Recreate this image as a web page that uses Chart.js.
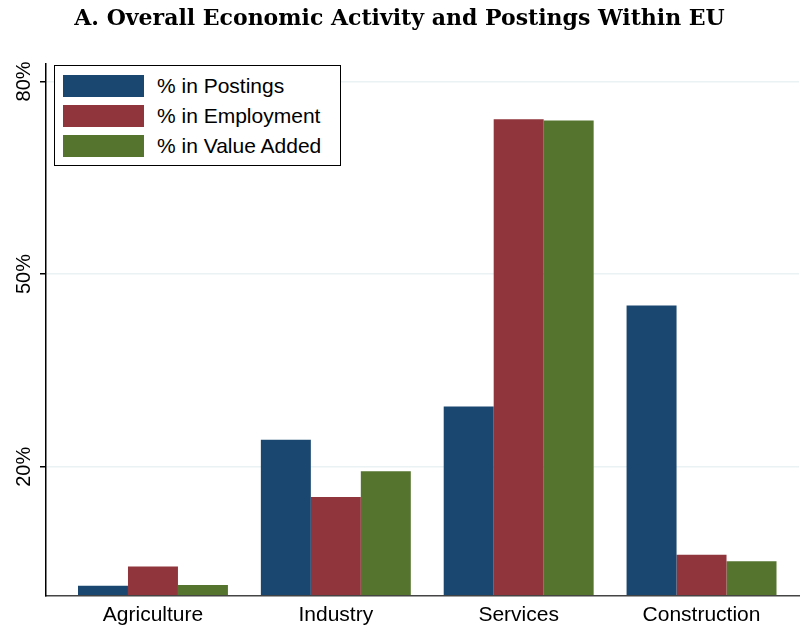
<!DOCTYPE html>
<html>
<head>
<meta charset="utf-8">
<script src="https://cdn.jsdelivr.net/npm/chart.js@4/dist/chart.umd.min.js"></script>
<style>
  body { margin: 0; background: #fff; }
  #wrap { position: relative; width: 800px; height: 628px; }
  #legend {
    position: absolute; left: 54px; top: 65px; width: 285px; height: 99px;
    border: 1px solid #000; background: #fff;
    font-family: 'Liberation Sans', Arial, sans-serif; font-size: 21px; color: #000;
  }
  .row { position: absolute; left: 8px; height: 22px; display: flex; align-items: center; }
  .sw { width: 81px; height: 22px; margin-right: 13px; }
</style>
</head>
<body>
<div id="wrap">
  <canvas id="chart" width="800" height="628"></canvas>
  <div id="legend"></div>
</div>
<script>
const categories = ['Agriculture', 'Industry', 'Services', 'Construction'];
const postings = [1.5, 24.2, 29.4, 45.1];
const employment = [4.5, 15.3, 74.1, 6.3];
const valueAdded = [1.6, 19.3, 73.9, 5.3];
const yTicks = [20, 50, 80];

const seriesNames = ['% in Postings', '% in Employment', '% in Value Added'];
const seriesColors = ['#1a476f', '#90353b', '#55752f'];
const seriesValues = [postings, employment, valueAdded];

function makeDatasets() {
    return seriesValues.map((vals, k) => ({
        label: seriesNames[k],
        data: vals.map((v, i) => ({ x: i, y: v })),
        backgroundColor: seriesColors[k],
        borderWidth: 0,
        barPercentage: 1,
        categoryPercentage: 0.82
    }))
}

const config = {
    type: 'bar',
    data: { datasets: makeDatasets() },
    options: {
        responsive: false,
        animation: false,
        layout: { padding: { left: 0, right: 1, top: 0, bottom: 0 } },
        plugins: {
            legend: { display: false },
            tooltip: { enabled: false },
            title: {
                display: true,
                text: 'A. Overall Economic Activity and Postings Within EU',
                color: '#000',
                font: { family: 'DejaVu Serif', size: 22, weight: 'bold' },
                padding: { top: 6, bottom: 31 }
            }
        },
        scales: {
            x: {
                type: 'linear',
                offset: false,
                min: -0.585,
                max: 3.533,
                afterBuildTicks: function (scale) {
                    scale.ticks = categories.map((c, i) => ({ value: i }))
                },
                afterFit: function (scale) { scale.height = 32.7 },
                ticks: {
                    color: '#000',
                    font: { family: 'Liberation Sans', size: 21 },
                    padding: 7,
                    maxRotation: 0,
                    callback: function (v) { return categories[v] }
                },
                grid: { display: false, drawTicks: false, offset: false },
                border: { display: true, color: '#444', width: 1.5 }
            },
            y: {
                min: 0,
                max: 82.8,
                afterBuildTicks: function (scale) {
                    scale.ticks = yTicks.map(v => ({ value: v }))
                },
                afterFit: function (scale) { scale.width = 46 },
                ticks: {
                    color: '#000',
                    font: { family: 'Liberation Sans', size: 20 },
                    minRotation: 90,
                    maxRotation: 90,
                    crossAlign: 'center',
                    padding: -4,
                    callback: function (v) { return v + '%' }
                },
                grid: { color: '#eaf2f3', lineWidth: 1.5, tickColor: '#000', tickLength: 6, tickWidth: 1.5 },
                border: { display: true, color: '#000', width: 1.5 }
            }
        }
    }
};

const chart = new Chart('chart', config);

// legend box inside the plot, top-left
const legend = document.getElementById('legend');
chart.data.datasets.forEach((ds, k) => {
    const row = document.createElement('div');
    row.className = 'row';
    row.style.top = (9 + k * 30) + 'px';
    row.innerHTML = '<span class="sw" style="background:' + ds.backgroundColor + '"></span><span>' + ds.label + '</span>';
    legend.appendChild(row);
});
</script>
</body>
</html>
